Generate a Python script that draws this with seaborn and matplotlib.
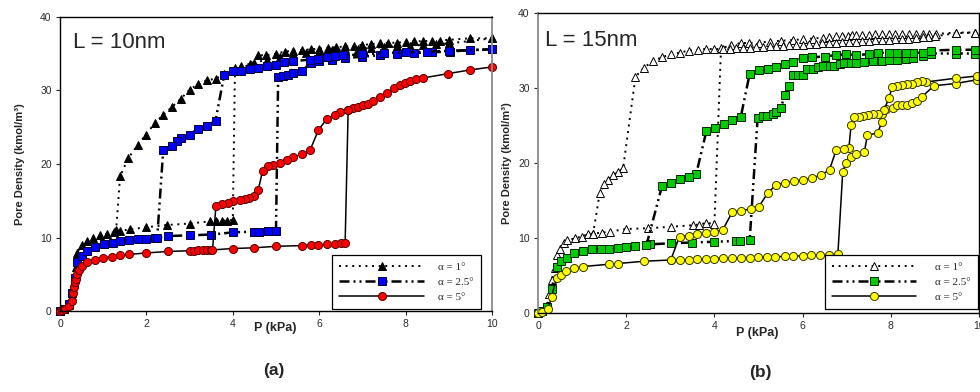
import numpy as np
import pandas as pd
import matplotlib
matplotlib.use("Agg")
import matplotlib.pyplot as plt
from matplotlib.lines import Line2D
import seaborn as sns

# ---------------- data: panel (a) L = 10 nm ----------------
a1_ads_x = [0, 0.1, 0.2, 0.27, 0.32, 0.36, 0.39, 0.5, 0.62, 0.77, 0.93, 1.08, 1.24, 1.39, 1.62, 2.0, 2.47, 3.0, 3.47, 3.6, 3.75, 3.86, 4.0,
            4.05, 4.2, 4.4, 4.59, 4.78, 5.0, 5.2, 5.4, 5.6, 5.8, 6.0, 6.2, 6.4, 6.6, 6.8, 7.0, 7.2, 7.4, 7.6, 7.8, 8.0, 8.2, 8.4, 8.6, 8.8, 9.0, 9.49, 10.0]
a1_ads_y = [0, 0.3, 0.8, 2.0, 4.0, 6.0, 7.85, 9.0, 9.5, 9.9, 10.3, 10.5, 10.7, 10.9, 11.1, 11.4, 11.7, 11.9, 12.2, 12.3, 12.3, 12.3, 12.4,
            33.0, 33.0, 33.6, 34.8, 34.8, 35.0, 35.3, 35.4, 35.5, 35.6, 35.7, 35.8, 35.9, 36.0, 36.1, 36.2, 36.3, 36.4, 36.5, 36.5, 36.6, 36.7, 36.7, 36.8, 36.8, 36.9, 37.1, 37.1]
a1_des_x = [10.0, 9.0, 8.7, 8.4, 8.1, 7.8, 7.5, 7.2, 6.9, 6.6, 6.3, 6.0, 5.7, 5.4, 5.1, 4.8, 4.5, 4.2, 4.0, 3.8, 3.6, 3.4, 3.2, 3.0, 2.8, 2.6, 2.39, 2.2, 1.99, 1.8, 1.58, 1.39, 1.3]
a1_des_y = [37.1, 36.4, 36.3, 36.2, 36.1, 36.0, 35.9, 35.8, 35.7, 35.6, 35.5, 35.3, 35.1, 34.9, 34.6, 34.2, 33.8, 33.3, 32.7, 32.2, 31.6, 31.4, 30.9, 30.1, 28.9, 27.8, 26.7, 25.6, 24.0, 22.6, 20.8, 18.3, 11.0]

a25_ads_x = [0, 0.1, 0.2, 0.28, 0.34, 0.4, 0.52, 0.63, 0.81, 1.02, 1.22, 1.4, 1.6, 1.8, 2.0, 2.2, 2.5, 3.0, 3.5, 4.0, 4.5, 4.6, 4.82, 5.0,
             5.05, 5.17, 5.28, 5.4, 5.6, 5.8, 6.0, 6.3, 6.6, 7.0, 7.4, 7.8, 8.2, 8.6, 9.03, 9.49, 10.0]
a25_ads_y = [0, 0.3, 0.9, 2.5, 4.5, 6.6, 7.5, 8.1, 8.7, 9.1, 9.3, 9.5, 9.7, 9.8, 9.85, 9.9, 10.2, 10.3, 10.4, 10.7, 10.8, 10.8, 10.9, 10.9,
             31.9, 32.0, 32.1, 32.4, 32.6, 33.8, 34.0, 34.2, 34.4, 34.6, 34.8, 35.0, 35.1, 35.2, 35.3, 35.5, 35.6]
a25_des_x = [10.0, 9.0, 8.5, 8.0, 7.5, 7.0, 6.56, 6.37, 6.17, 5.98, 5.79, 5.4, 5.19, 5.0, 4.8, 4.59, 4.4, 4.2, 4.0, 3.8,
             3.6, 3.41, 3.2, 3.0, 2.8, 2.7, 2.6, 2.39, 2.25]
a25_des_y = [35.6, 35.4, 35.3, 35.2, 35.1, 34.9, 34.8, 34.7, 34.6, 34.3, 34.2, 34.0, 33.9, 33.5, 33.3, 33.0, 32.9, 32.7, 32.6, 32.1,
             25.9, 25.2, 24.8, 24.0, 23.6, 23.1, 22.5, 21.9, 10.0]

a5_ads_x = [0, 0.05, 0.12, 0.2, 0.27, 0.31, 0.33, 0.35, 0.37, 0.4, 0.43, 0.5, 0.62, 0.81, 1.0, 1.21, 1.4, 1.6, 2.0, 2.5, 3.0, 3.1, 3.2, 3.3, 3.4, 3.5,
            4.0, 4.5, 5.0, 5.6, 5.8, 5.98, 6.17, 6.37, 6.5, 6.6,
            6.67, 6.79, 6.9, 7.02, 7.14, 7.25, 7.41, 7.56, 7.72, 7.87, 7.98, 8.1, 8.25, 8.4, 8.99, 9.49, 10.0]
a5_ads_y = [0, 0.1, 0.23, 0.7, 1.3, 2.4, 3.2, 4.0, 4.4, 5.0, 5.6, 6.1, 6.6, 7.0, 7.2, 7.4, 7.6, 7.7, 7.9, 8.1, 8.2, 8.2, 8.25, 8.3, 8.3, 8.3,
            8.5, 8.6, 8.8, 8.9, 9.0, 9.0, 9.05, 9.15, 9.2, 9.2,
            27.3, 27.6, 27.8, 28.0, 28.2, 28.6, 29.1, 29.6, 30.3, 30.7, 31.0, 31.3, 31.5, 31.7, 32.3, 32.8, 33.2]
a5_des_x = [6.67, 6.48, 6.37, 6.17, 5.98, 5.79, 5.6, 5.4, 5.25, 5.1, 4.94, 4.82, 4.69, 4.59, 4.49, 4.38, 4.28, 4.17, 4.0, 3.88, 3.74, 3.61, 3.53]
a5_des_y = [27.3, 27.1, 26.7, 26.1, 24.6, 21.9, 21.4, 20.9, 20.6, 20.2, 19.9, 19.7, 19.1, 16.5, 15.7, 15.4, 15.3, 15.1, 14.9, 14.7, 14.5, 14.3, 8.3]

# ---------------- data: panel (b) L = 15 nm ----------------
b1_ads_x = [0, 0.1, 0.2, 0.26, 0.31, 0.38, 0.42, 0.5, 0.59, 0.66, 0.84, 0.99, 1.14, 1.25, 1.44, 1.63, 2.0, 2.5, 3.02, 3.51, 3.65, 3.82, 4.0,
            4.15, 4.38, 4.6, 4.79, 5.02, 5.25, 5.51, 5.78, 6.0, 6.23, 6.46, 6.6, 6.76, 6.9, 7.02, 7.12, 7.21, 7.35, 7.51, 7.65, 7.81, 7.95,
            8.1, 8.25, 8.42, 8.57, 8.72, 8.87, 9.02, 9.47, 9.92]
b1_ads_y = [0, 0.3, 1.0, 2.5, 4.4, 6.0, 7.7, 8.6, 9.3, 9.7, 9.96, 10.2, 10.5, 10.6, 10.7, 10.85, 11.2, 11.3, 11.5, 11.7, 11.8, 12.0, 11.9,
            35.3, 35.7, 36.0, 36.0, 36.05, 36.2, 36.3, 36.4, 36.5, 36.6, 36.7, 36.8, 36.9, 36.95, 37.0, 37.05, 37.1, 37.1, 37.1, 37.15, 37.2, 37.2,
            37.2, 37.2, 37.2, 37.2, 37.2, 37.2, 37.2, 37.4, 37.4]
b1_des_x = [9.92, 9.47, 9.0, 8.85, 8.72, 8.57, 8.4, 8.25, 8.1, 7.95, 7.8, 7.65, 7.5, 7.35, 7.2, 7.05, 6.9, 6.75, 6.6, 6.45, 6.3, 6.15, 6.0,
            5.85, 5.7, 5.55, 5.4, 5.25, 5.1, 4.95, 4.8, 4.65, 4.5, 4.35, 4.2, 4.0, 3.82, 3.63, 3.42, 3.21, 3.02, 2.81, 2.61, 2.4, 2.21,
            1.93, 1.82, 1.7, 1.59, 1.5, 1.4, 1.25]
b1_des_y = [37.4, 37.3, 36.9, 36.8, 36.75, 36.7, 36.6, 36.55, 36.5, 36.45, 36.4, 36.35, 36.3, 36.25, 36.2, 36.15, 36.1, 36.05, 36.0, 35.95, 35.9, 35.85, 35.8,
            35.75, 35.7, 35.65, 35.6, 35.55, 35.5, 35.45, 35.4, 35.35, 35.3, 35.25, 35.2, 35.2, 35.2, 35.1, 35.0, 34.7, 34.5, 34.1, 33.6, 32.7, 31.5,
            19.3, 18.8, 18.4, 17.7, 17.2, 16.0, 10.6]

b25_ads_x = [0, 0.1, 0.2, 0.31, 0.42, 0.52, 0.65, 0.82, 1.03, 1.23, 1.43, 1.61, 1.82, 2.0, 2.21, 2.44, 2.53, 3.02, 3.5, 4.0, 4.5, 4.59, 4.8,
             4.98, 5.1, 5.2, 5.32, 5.4, 5.51, 5.59, 5.7, 5.78, 5.89, 6.0, 6.11, 6.23, 6.35, 6.46, 6.61, 6.72, 6.84, 6.95, 7.1, 7.21, 7.4,
             7.6, 7.8, 7.97, 8.15, 8.35, 8.5, 8.72, 8.91, 9.47, 9.92]
b25_ads_y = [0, 0.3, 0.8, 3.2, 6.1, 6.9, 7.4, 7.96, 8.27, 8.5, 8.53, 8.6, 8.7, 8.85, 8.9, 9.07, 9.15, 9.3, 9.4, 9.5, 9.6, 9.6, 9.73,
             26.0, 26.3, 26.3, 26.6, 26.8, 27.3, 29.1, 30.3, 31.7, 31.8, 31.8, 32.5, 32.6, 32.8, 32.9, 33.0, 33.0, 33.2, 33.3, 33.35, 33.4, 33.5,
             33.6, 33.65, 33.7, 33.8, 33.9, 34.0, 34.3, 34.6, 34.6, 34.6]
b25_des_x = [9.92, 9.47, 8.91, 8.72, 8.5, 8.35, 8.15, 7.97, 7.71, 7.51, 7.2, 6.98, 6.76, 6.5, 6.22, 6.0, 5.79, 5.59, 5.4, 5.21, 5.0, 4.8,
             4.6, 4.39, 4.21, 4.02, 3.82, 3.59, 3.42, 3.21, 3.01, 2.81, 2.46]
b25_des_y = [35.1, 35.1, 35.0, 34.7, 34.7, 34.7, 34.7, 34.7, 34.7, 34.5, 34.4, 34.5, 34.4, 34.2, 34.1, 34.0, 33.5, 33.2, 32.8, 32.6, 32.4, 31.9,
             26.2, 25.8, 25.2, 24.7, 24.3, 18.6, 18.2, 17.9, 17.4, 16.9, 9.07]

b5_ads_x = [0, 0.1, 0.23, 0.31, 0.42, 0.52, 0.63, 0.82, 1.03, 1.61, 1.82, 2.4, 3.01, 3.21, 3.42, 3.6, 3.8, 4.0, 4.19, 4.39, 4.6, 4.8, 4.99,
            5.2, 5.38, 5.59, 5.79, 6.0, 6.2, 6.4, 6.6, 6.8,
            6.91, 6.98, 7.1, 7.21, 7.4, 7.47, 7.7, 7.8, 7.81, 7.89, 8.04, 8.15, 8.26, 8.37, 8.49, 8.59, 8.7, 8.98, 9.47, 9.96]
b5_ads_y = [0, 0.1, 0.6, 2.2, 4.7, 5.07, 5.6, 5.96, 6.2, 6.5, 6.6, 6.9, 7.07, 7.07, 7.1, 7.15, 7.2, 7.25, 7.3, 7.3, 7.4, 7.4, 7.45,
            7.5, 7.5, 7.55, 7.6, 7.6, 7.7, 7.75, 7.8, 7.85,
            18.8, 20.0, 20.8, 21.2, 21.5, 23.7, 24.0, 25.5, 26.6, 27.2, 27.4, 27.7, 27.7, 27.8, 28.0, 28.3, 28.8, 30.3, 30.6, 31.1]
b5_des_x = [9.96, 9.47, 8.79, 8.7, 8.59, 8.48, 8.37, 8.26, 8.14, 8.03, 7.96, 7.85, 7.7, 7.6, 7.48, 7.37, 7.27, 7.16, 7.1,
            7.05, 6.93, 6.76, 6.61, 6.42, 6.21, 6.0, 5.81, 5.61, 5.4, 5.21, 5.01, 4.82, 4.61, 4.41,
            4.19, 4.0, 3.82, 3.6, 3.42, 3.21, 3.01]
b5_des_y = [31.6, 31.3, 30.8, 30.9, 30.8, 30.6, 30.5, 30.4, 30.3, 30.1, 28.7, 27.1, 26.6, 26.5, 26.4, 26.3, 26.2, 26.1, 25.1,
            22.0, 21.9, 21.7, 19.1, 18.4, 18.0, 17.7, 17.6, 17.4, 17.1, 16.0, 14.2, 13.9, 13.6, 13.5,
            11.1, 10.8, 10.7, 10.5, 10.3, 10.2, 7.07]

labels = ["α = 1°", "α = 2.5°", "α = 5°"]
panel_titles = ["L = 10nm", "L = 15nm"]
panel_tags = ["(a)", "(b)"]
x_ticks = [0, 2, 4, 6, 8, 10]
y_ticks = [0, 10, 20, 30, 40]


def frame(ax_x, ax_y, ds_x, ds_y):
    return pd.DataFrame({
        "P": list(ax_x) + list(ds_x),
        "D": list(ax_y) + list(ds_y),
        "branch": ["ads"] * len(ax_x) + ["des"] * len(ds_x),
    })


sns.set_style("ticks")
plt.rcParams["font.family"] = ["Liberation Sans", "DejaVu Sans"]

DOT = (0, (1, 2.4))
DASHDOTDOT = (0, (4, 1.6, 0.8, 1.6, 0.8, 1.6))

styles_a = [
    dict(marker="^", mfc="black", mec="black", ls=DOT, lw=1.4, ms=6.0),
    dict(marker="s", mfc="#0000FF", mec="#000033", ls=DASHDOTDOT, lw=1.8, ms=5.6),
    dict(marker="o", mfc="#FF0000", mec="#550000", ls="-", lw=1.1, ms=5.8),
]
styles_b = [
    dict(marker="^", mfc="white", mec="black", ls=DOT, lw=1.4, ms=6.0),
    dict(marker="s", mfc="#00CC00", mec="#002200", ls=DASHDOTDOT, lw=1.8, ms=5.6),
    dict(marker="o", mfc="#FFFF00", mec="#333300", ls="-", lw=1.1, ms=5.8),
]

panels = [
    [frame(a1_ads_x, a1_ads_y, a1_des_x, a1_des_y),
     frame(a25_ads_x, a25_ads_y, a25_des_x, a25_des_y),
     frame(a5_ads_x, a5_ads_y, a5_des_x, a5_des_y)],
    [frame(b1_ads_x, b1_ads_y, b1_des_x, b1_des_y),
     frame(b25_ads_x, b25_ads_y, b25_des_x, b25_des_y),
     frame(b5_ads_x, b5_ads_y, b5_des_x, b5_des_y)],
]

W, H = 980, 392
fig = plt.figure(figsize=(W / 100, H / 100), dpi=100)
ax1 = fig.add_axes([60 / W, 1 - 311 / H, 432 / W, 294 / H])
ax2 = fig.add_axes([538 / W, 1 - 313 / H, 441 / W, 300 / H])

cfg = [
    dict(ax=ax1, styles=styles_a, grey="right", ylab=(-0.081, 0.5), xlab=(0.498, -0.037),
         title=(0.03, 0.912), leg=(0.975, 0.007), tag=(274, 371), htp=1.3),
    dict(ax=ax2, styles=styles_b, grey="left", ylab=(-0.059, 0.5), xlab=(0.497, -0.047),
         title=(0.016, 0.91), leg=(0.998, 0.013), tag=(760, 373), htp=1.7),
]

for k, c in enumerate(cfg):
    ax = c["ax"]
    for df, st in zip(panels[k], c["styles"]):
        sns.lineplot(data=df, x="P", y="D", units="branch", estimator=None, sort=False,
                     ax=ax, color="black", linestyle=st["ls"], linewidth=st["lw"],
                     marker=st["marker"], markersize=st["ms"], markerfacecolor=st["mfc"],
                     markeredgecolor=st["mec"], markeredgewidth=0.7, clip_on=False, legend=False)
    ax.set_xlim(0, 10)
    ax.set_ylim(0, 40)
    ax.set_xticks(x_ticks)
    ax.set_yticks(y_ticks)
    ax.tick_params(axis="both", labelsize=7.5, labelcolor="#2a2a2a", length=3, width=0.8,
                   direction="out", pad=3)
    for s in ["left", "right", "top", "bottom"]:
        ax.spines[s].set_visible(True)
        ax.spines[s].set_color("black")
        ax.spines[s].set_linewidth(1.0)
    ax.spines[c["grey"]].set_color("#8a8a8a")
    ax.spines[c["grey"]].set_linewidth(1.3)
    ax.set_ylabel("Pore Density (kmol/m³)", fontsize=8, fontweight="bold")
    ax.yaxis.set_label_coords(*c["ylab"])
    ax.set_xlabel("P (kPa)", fontsize=9, fontweight="bold")
    ax.xaxis.set_label_coords(*c["xlab"])
    ax.text(c["title"][0], c["title"][1], panel_titles[k], transform=ax.transAxes,
            fontsize=16, va="center", ha="left")

    handles = [Line2D([0], [0], color="black", linestyle=st["ls"], linewidth=st["lw"],
                      marker=st["marker"], markersize=st["ms"], markerfacecolor=st["mfc"],
                      markeredgecolor=st["mec"], markeredgewidth=0.7)
               for st in c["styles"]]
    leg = ax.legend(handles, labels, loc="lower right", bbox_to_anchor=c["leg"],
                    borderaxespad=0, frameon=True, fancybox=False, framealpha=1,
                    edgecolor="black", handlelength=7.6, handletextpad=c["htp"],
                    labelspacing=0.45, borderpad=0.65, numpoints=1,
                    prop=dict(family="Liberation Serif", size=8))
    leg.get_frame().set_linewidth(0.9)
    leg.set_zorder(10)

    fig.text(c["tag"][0] / W, 1 - c["tag"][1] / H, panel_tags[k], ha="center", va="center",
             fontsize=12.5, fontweight="bold")

fig.savefig("out.png", dpi=100)
